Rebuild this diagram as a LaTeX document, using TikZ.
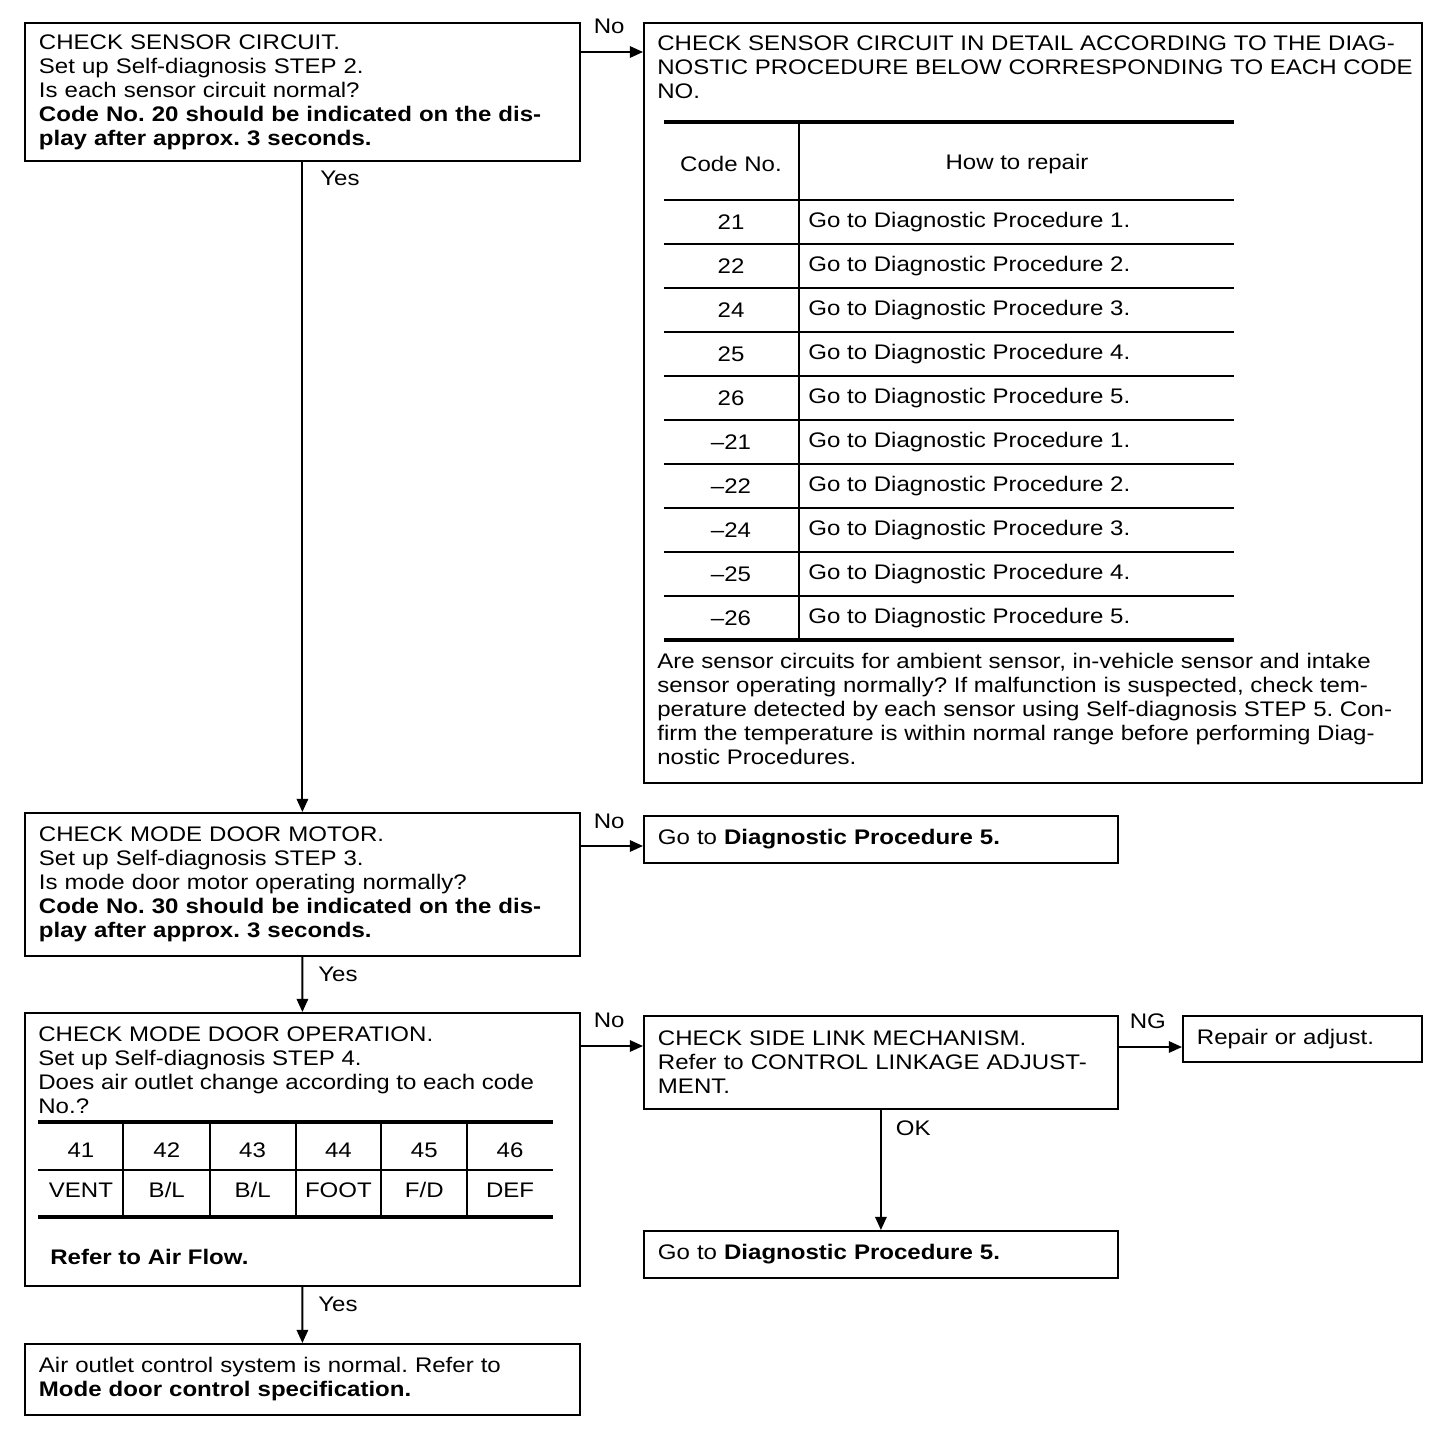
\documentclass[tikz,border=0pt]{standalone}
\usepackage{fontspec}
\setmainfont{Liberation Sans}[FakeStretch=1.14]
\usetikzlibrary{arrows.meta,positioning}
\frenchspacing

\tikzset{
  box/.style={draw, line width=1.1pt, anchor=north west, inner sep=0pt},
  txt/.style={font=\fontsize{12pt}{13.66pt}\selectfont, inner sep=0pt},
  tbox/.style={box, txt, align=left, inner xsep=0.28cm, inner ysep=0pt},
  arr/.style={line width=1.1pt, -{Triangle[length=7.5pt,width=6.5pt]}},
  lbl/.style={txt},
  heavyrule/.style={line width=2.4pt},
  lightrule/.style={line width=0.9pt}
}

\begin{document}
\begin{tikzpicture}[x=0.02cm, y=-0.02cm]
  \useasboundingbox (0,0) rectangle (1456,1438);
  % left column
  \node[tbox, text width=10.54cm, minimum height=2.76cm] (sensor) at (24,22)
    {CHECK SENSOR CIRCUIT.\\
     Set up Self-diagnosis STEP 2.\\
     Is each sensor circuit normal?\\
     \textbf{Code No. 20 should be indicated on the dis-}\\
     \textbf{play after approx. 3 seconds.}};
  \node[tbox, text width=10.54cm, minimum height=2.86cm] (motor) at (24,812)
    {CHECK MODE DOOR MOTOR.\\
     Set up Self-diagnosis STEP 3.\\
     Is mode door motor operating normally?\\
     \textbf{Code No. 30 should be indicated on the dis-}\\
     \textbf{play after approx. 3 seconds.}};
  \node[box, minimum width=11.1cm, minimum height=5.46cm] (oper) at (24,1012) {};
  \node[tbox, text width=10.54cm, minimum height=1.42cm] (normal) at (24,1343)
    {Air outlet control system is normal. Refer to\\
     \textbf{Mode door control specification.}};

  % mode door operation box contents
  \node[txt, align=left, anchor=north west] (oper-t) at (38,1026)
    {CHECK MODE DOOR OPERATION.\\
     Set up Self-diagnosis STEP 4.\\
     Does air outlet change according to each code\\
     No.?};
  \draw[heavyrule] (38,1122) -- (553,1122);
  \draw[lightrule] (38,1170) -- (553,1170);
  \draw[heavyrule] (38,1217) -- (553,1217);
  \foreach \x in {123,210,296,381,467}
    \draw[lightrule] (\x,1122) -- (\x,1217);
  \foreach \c/\m [count=\i] in {41/VENT,42/B\slash L,43/B\slash L,44/FOOT,45/F\slash D,46/DEF} {
    \node[txt] (mode\i) at (38+85.83*\i-42.9,1150) {\c};
    \node[txt] (pos\i) at (38+85.83*\i-42.9,1190) {\m};
  }
  \node[txt, anchor=west] (airflow) at (50,1257) {\textbf{Refer to Air Flow.}};

  % right column
  \node[box, minimum width=15.56cm, minimum height=15.2cm] (detail) at (643,22) {};
  \node[txt, align=left, anchor=north west] (detail-t) at (657,35)
    {CHECK SENSOR CIRCUIT IN DETAIL ACCORDING TO THE DIAG-\\
     NOSTIC PROCEDURE BELOW CORRESPONDING TO EACH CODE\\
     NO.};
  \draw[heavyrule] (664,122) -- (1234,122);
  \draw[lightrule] (799,122) -- (799,640);
  \node[txt] (codehead) at (731,164) {Code No.};
  \node[txt] (repairhead) at (1017,164) {How to repair};
  \foreach \y in {200,244,...,596}
    \draw[lightrule] (664,\y) -- (1234,\y);
  \draw[heavyrule] (664,640) -- (1234,640);
  \foreach \c/\n [count=\i] in {21/1,22/2,24/3,25/4,26/5,–21/1,–22/2,–24/3,–25/4,–26/5} {
    \node[txt] (code\i) at (731,178+44*\i) {\c};
    \node[txt, anchor=west] (fix\i) at (808,178+44*\i) {Go to Diagnostic Procedure \n.};
  }
  \node[txt, align=left, anchor=north west] (detail-n) at (657,653)
    {Are sensor circuits for ambient sensor, in-vehicle sensor and intake\\
     sensor operating normally? If malfunction is suspected, check tem-\\
     perature detected by each sensor using Self-diagnosis STEP 5. Con-\\
     firm the temperature is within normal range before performing Diag-\\
     nostic Procedures.};

  \node[tbox, text width=8.92cm, minimum height=0.94cm] (procA) at (643,815)
    {Go to \textbf{Diagnostic Procedure 5.}};
  \node[tbox, text width=8.92cm, minimum height=1.86cm] (link) at (643,1015)
    {CHECK SIDE LINK MECHANISM.\\
     Refer to CONTROL LINKAGE ADJUST-\\
     MENT.};
  \node[tbox, text width=4.22cm, minimum height=0.92cm] (repair) at (1182,1015)
    {Repair or adjust.};
  \node[tbox, text width=8.92cm, minimum height=0.94cm] (procB) at (643,1230)
    {Go to \textbf{Diagnostic Procedure 5.}};

  % connectors
  \draw[arr] ([yshift=-0.6cm]sensor.north east) coordinate (s1) -- (s1 -| detail.west)
    node[lbl, pos=0, above right=0.34cm and 0.24cm] {No};
  \draw[arr] (sensor.south) -- (motor.north)
    node[lbl, pos=0, below right=0.16cm and 0.34cm] {Yes};
  \draw[arr] ([yshift=-0.68cm]motor.north east) coordinate (m1) -- (m1 -| procA.west)
    node[lbl, pos=0, above right=0.32cm and 0.24cm] {No};
  \draw[arr] (motor.south) -- (oper.north)
    node[lbl, pos=0, below right=0.18cm and 0.3cm] {Yes};
  \draw[arr] ([yshift=-0.68cm]oper.north east) coordinate (o1) -- (o1 -| link.west)
    node[lbl, pos=0, above right=0.34cm and 0.24cm] {No};
  \draw[arr] (oper.south) -- (normal.north)
    node[lbl, pos=0, below right=0.18cm and 0.3cm] {Yes};
  \draw[arr] ([yshift=-0.64cm]link.north east) coordinate (l1) -- (l1 -| repair.west)
    node[lbl, pos=0, above right=0.34cm and 0.2cm] {NG};
  \draw[arr] (link.south) -- (procB.north)
    node[lbl, pos=0, below right=0.2cm and 0.28cm] {OK};
\end{tikzpicture}
\end{document}
